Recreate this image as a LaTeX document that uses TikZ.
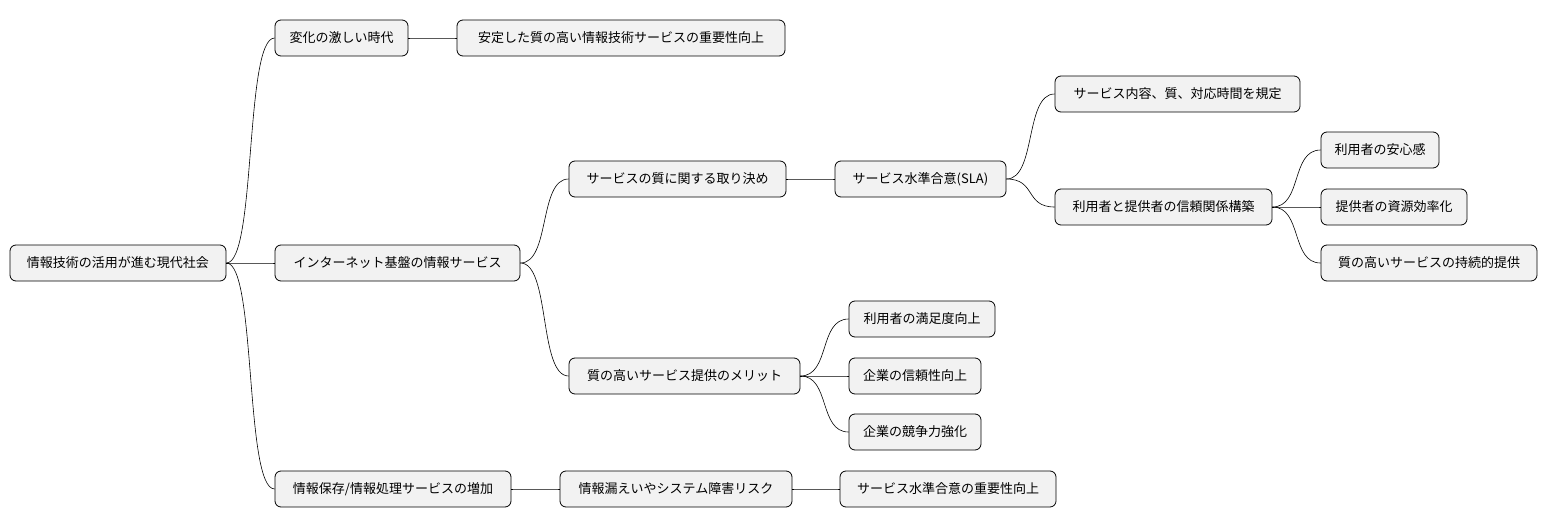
\documentclass[tikz,border=0pt]{standalone}
\usepackage{fontspec}
\setmainfont{Noto Sans CJK JP}
\begin{document}
\begin{tikzpicture}[x=1pt,y=-1pt,
 box/.style={draw=black,fill=black!5,rounded corners=6pt,line width=0.8pt,minimum height=36pt,inner sep=0pt,font=\fontsize{13}{15}\selectfont,anchor=center},
 con/.style={line width=0.6pt}]
\useasboundingbox (0,0) rectangle (1548,527);
\newcommand{\bx}[5]{\node[box,minimum width={#3-#2}] (#1) at ({(#2+#3)/2},#4) {#5};}
\bx{r}{10}{226}{263}{情報技術の活用が進む現代社会}
\bx{a}{275}{408}{38}{変化の激しい時代}
\bx{a1}{457}{785}{38}{安定した質の高い情報技術サービスの重要性向上}
\bx{b}{275}{520}{263}{インターネット基盤の情報サービス}
\bx{b1}{569}{786}{179}{サービスの質に関する取り決め}
\bx{b11}{835}{1006}{179}{サービス水準合意(SLA)}
\bx{b111}{1055}{1300}{94}{サービス内容、質、対応時間を規定}
\bx{b112}{1055}{1272}{207}{利用者と提供者の信頼関係構築}
\bx{c1}{1321}{1439}{150}{利用者の安心感}
\bx{c2}{1321}{1467}{207}{提供者の資源効率化}
\bx{c3}{1321}{1537}{263}{質の高いサービスの持続的提供}
\bx{b2}{569}{800}{376}{質の高いサービス提供のメリット}
\bx{d1}{849}{995}{319}{利用者の満足度向上}
\bx{d2}{849}{981}{376}{企業の信頼性向上}
\bx{d3}{849}{981}{432}{企業の競争力強化}
\bx{e}{275}{511}{489}{情報保存/情報処理サービスの増加}
\bx{e1}{560}{792}{489}{情報漏えいやシステム障害リスク}
\bx{e2}{840}{1056}{489}{サービス水準合意の重要性向上}
\foreach \p/\c in {r/a,a/a1,r/b,b/b1,b1/b11,b11/b111,b11/b112,b112/c1,b112/c2,b112/c3,b/b2,b2/d1,b2/d2,b2/d3,r/e,e/e1,e1/e2}
 \draw[con] (\p.east) .. controls +(30,0) and +(-30,0) .. (\c.west);
\end{tikzpicture}
\end{document}
